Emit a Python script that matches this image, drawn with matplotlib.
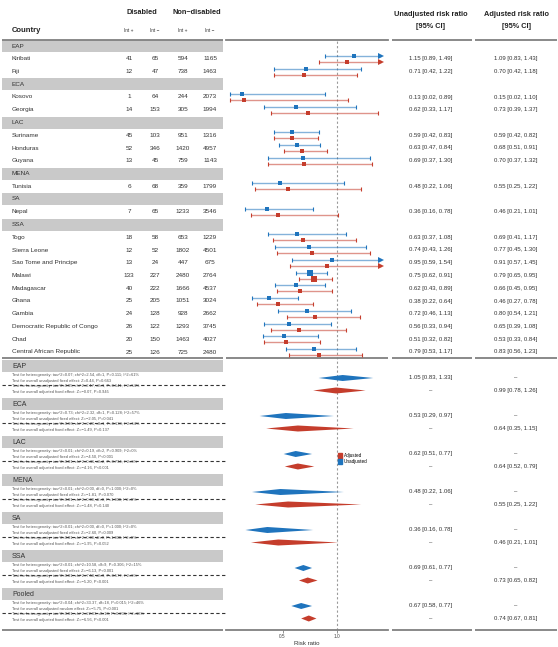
import matplotlib.pyplot as plt
from matplotlib.patches import Rectangle, Polygon, Patch
import numpy as np

plt.rcParams['font.family'] = ['Liberation Sans', 'DejaVu Sans']

# ---- data ----
regions = ["EAP", "ECA", "LAC", "MENA", "SA", "SSA"]
countries = ["Kiribati", "Fiji", "Kosovo", "Georgia", "Suriname", "Honduras", "Guyana",
             "Tunisia", "Nepal", "Togo", "Sierra Leone", "Sao Tome and Principe", "Malawi",
             "Madagascar", "Ghana", "Gambia", "Democratic Republic of Congo", "Chad",
             "Central African Republic"]
country_region = ["EAP", "EAP", "ECA", "ECA", "LAC", "LAC", "LAC", "MENA", "SA",
                  "SSA", "SSA", "SSA", "SSA", "SSA", "SSA", "SSA", "SSA", "SSA", "SSA"]
dis_pos = [41, 12, 1, 14, 45, 52, 13, 6, 7, 18, 12, 13, 133, 40, 25, 24, 26, 20, 25]
dis_neg = [65, 47, 64, 153, 103, 346, 45, 68, 65, 58, 52, 24, 227, 222, 205, 128, 122, 150, 126]
non_pos = [594, 738, 244, 305, 951, 1420, 759, 359, 1233, 653, 1802, 447, 2480, 1666, 1051,
           928, 1293, 1463, 725]
non_neg = [1165, 1463, 2073, 1994, 1316, 4957, 1143, 1799, 3546, 1229, 4501, 675, 2764, 4537,
           3024, 2662, 3745, 4027, 2480]

unadj_rr = [1.15, 0.71, 0.13, 0.62, 0.59, 0.63, 0.69, 0.48, 0.36, 0.63, 0.74, 0.95, 0.75, 0.62,
            0.38, 0.72, 0.56, 0.51, 0.79]
unadj_lo = [0.89, 0.42, 0.02, 0.33, 0.42, 0.47, 0.37, 0.22, 0.16, 0.37, 0.43, 0.59, 0.62, 0.43,
            0.22, 0.46, 0.33, 0.32, 0.53]
unadj_hi = [1.49, 1.22, 0.89, 1.17, 0.83, 0.84, 1.30, 1.06, 0.78, 1.08, 1.26, 1.54, 0.91, 0.89,
            0.64, 1.13, 0.94, 0.82, 1.17]
adj_rr = [1.09, 0.70, 0.15, 0.73, 0.59, 0.68, 0.70, 0.55, 0.46, 0.69, 0.77, 0.91, 0.79, 0.66,
          0.46, 0.80, 0.65, 0.53, 0.83]
adj_lo = [0.83, 0.42, 0.02, 0.39, 0.42, 0.51, 0.37, 0.25, 0.21, 0.41, 0.45, 0.57, 0.65, 0.45,
          0.27, 0.54, 0.39, 0.33, 0.56]
adj_hi = [1.43, 1.18, 1.10, 1.37, 0.82, 0.91, 1.32, 1.22, 1.01, 1.17, 1.30, 1.45, 0.95, 0.95,
          0.78, 1.21, 1.08, 0.84, 1.23]

groups = ["EAP", "ECA", "LAC", "MENA", "SA", "SSA", "Pooled"]
grp_unadj_rr = [1.05, 0.53, 0.62, 0.48, 0.36, 0.69, 0.67]
grp_unadj_lo = [0.83, 0.29, 0.51, 0.22, 0.16, 0.61, 0.58]
grp_unadj_hi = [1.33, 0.97, 0.77, 1.06, 0.78, 0.77, 0.77]
grp_adj_rr = [0.99, 0.64, 0.64, 0.55, 0.46, 0.73, 0.74]
grp_adj_lo = [0.78, 0.35, 0.52, 0.25, 0.21, 0.65, 0.67]
grp_adj_hi = [1.26, 1.15, 0.79, 1.22, 1.01, 0.82, 0.81]

het_unadj = ["tau^2=0.07; chi^2=2.54, df=1, P=0.111; I^2=61%",
             "tau^2=0.73; chi^2=2.32, df=1, P=0.128; I^2=57%",
             "tau^2<0.01; chi^2=0.19, df=2, P=0.909; I^2=0%",
             "tau^2<0.01; chi^2=0.00, df=0, P=1.000; I^2=0%",
             "tau^2<0.01; chi^2=0.00, df=0, P=1.000; I^2=0%",
             "tau^2<0.01; chi^2=10.58, df=9, P=0.306; I^2=15%",
             "tau^2=0.04; chi^2=33.37, df=18, P=0.015; I^2=46%"]
eff_unadj = ["Z=0.44, P=0.663", "Z=\u22122.05, P=0.041", "Z=\u22124.50, P<0.001",
             "Z=\u22121.81, P=0.070", "Z=\u22122.60, P=0.009", "Z=\u22126.13, P<0.001",
             "Z=\u22125.75, P<0.001"]
het_adj = ["tau^2=0.05; chi^2=2.17, df=1, P=0.141; I^2=54%",
           "tau^2=0.66; chi^2=2.20, df=1, P=0.138; I^2=54%",
           "tau^2<0.01; chi^2=0.46, df=2, P=0.794; I^2=0%",
           "tau^2<0.01; chi^2=0.00, df=0, P=1.000; I^2=0%",
           "tau^2<0.01; chi^2=0.00, df=0, P=1.000; I^2=0%",
           "tau^2<0.01; chi^2=7.58, df=9, P=0.577; I^2=0%",
           "tau^2<0.01; chi^2=22.03, df=18, P=0.231; I^2=18%"]
eff_adj = ["Z=\u22120.07, P=0.945", "Z=\u22121.49, P=0.137", "Z=\u22124.16, P<0.001",
           "Z=\u22121.48, P=0.140", "Z=\u22121.95, P=0.052", "Z=\u22125.20, P<0.001",
           "Z=\u22126.56, P<0.001"]

BLUE = '#1f74bd'
RED = '#c53d2c'
RULE = '#808080'
BAND = '#c9c9c9'
TXT = '#333333'

W, H = 558, 647
TOP, MID, BOT = 40, 358, 630
XMAX_ARROW = 1.40

fig = plt.figure(figsize=(W / 100, H / 100), dpi=100)
bg = fig.add_axes([0, 0, 1, 1])
bg.set_xlim(0, W)
bg.set_ylim(H, 0)
bg.axis('off')

fx = fig.add_axes([226 / W, (H - BOT) / H, 162 / W, (BOT - TOP) / H])
fx.set_facecolor('none')
fx.set_xlim(-0.018, 1.465)
fx.set_ylim(BOT, TOP)
for s in ['left', 'right']:
    fx.spines[s].set_visible(False)
for s in ['top', 'bottom']:
    fx.spines[s].set_color(RULE)
    fx.spines[s].set_linewidth(1.3)
fx.set_yticks([])
fx.set_xticks([0.5, 1.0])
fx.set_xticklabels(['0.5', '1.0'])
fx.tick_params(axis='x', length=2, width=0.6, color=RULE, labelsize=3.4,
               labelcolor='#444444', pad=1)
fx.set_xlabel('Risk ratio', fontsize=4.4, color='#333333', labelpad=1.5)
fx.axvline(1.0, color='#9a9a9a', lw=0.8, ls=(0, (2, 2)), zorder=0)
fx.axhline(MID, color=RULE, lw=1.3)

# horizontal rules for the table and text columns
for (x0, x1) in [(2, 223), (392, 472), (475, 557)]:
    for yy in (TOP, MID, BOT):
        bg.plot([x0, x1], [yy, yy], color=RULE, lw=1.3, solid_capstyle='butt')

# headers
col_x = [129, 155, 183, 210]
bg.text(12, 30, 'Country', fontsize=5.5, weight='bold', color='#222222', va='center')
bg.text(142, 12, 'Disabled', fontsize=5.3, weight='bold', color='#222222', ha='center', va='center')
bg.text(197, 12, 'Non\u2212disabled', fontsize=5.3, weight='bold', color='#222222',
        ha='center', va='center')
for x, lab in zip(col_x, ['Int +', 'Int \u2212', 'Int +', 'Int \u2212']):
    bg.text(x, 31, lab, fontsize=3.4, color=TXT, ha='center', va='center')
UX, AX = 431, 516
for x, lab in [(UX, 'Unadjusted risk ratio'), (AX, 'Adjusted risk ratio')]:
    bg.text(x, 14, lab, fontsize=5.3, weight='bold', color='#222222', ha='center', va='center')
    bg.text(x, 27, '[95% CI]', fontsize=5.3, weight='bold', color='#222222', ha='center', va='center')


def fmt(r, lo, hi):
    return f"{r:.2f} [{lo:.2f}, {hi:.2f}]"


def weight(lo, hi):
    se = (np.log(hi) - np.log(lo)) / 3.92
    return 1.0 / se ** 2


def draw_ci(y, r, lo, hi, color):
    hi_c = min(hi, XMAX_ARROW)
    fx.plot([lo, hi_c], [y, y], color=color, lw=1.0, alpha=0.55, solid_capstyle='butt')
    caps = [lo] if hi > XMAX_ARROW else [lo, hi]
    fx.vlines(caps, y - 2.0, y + 2.0, color=color, lw=0.8)
    if hi > XMAX_ARROW:
        fx.plot(XMAX_ARROW, y, marker='>', color=color, ms=3.8, mew=0)
    side = max(3.2, 5.8 * (weight(lo, hi) / 104.0) ** (1 / 3))
    fx.plot(r, y, marker='s', color=color, ms=side * 0.72, mew=0)


# ---- study rows ----
y = 46.0
step = 12.75
for reg in regions:
    bg.add_patch(Rectangle((2, y - 6), 221, 12, color=BAND, lw=0))
    bg.text(12, y, reg, fontsize=4.6, color=TXT, va='center')
    y += step
    for i, c in enumerate(countries):
        if country_region[i] != reg:
            continue
        bg.text(12, y, c, fontsize=4.6, color=TXT, va='center')
        for x, v in zip(col_x, [dis_pos[i], dis_neg[i], non_pos[i], non_neg[i]]):
            bg.text(x, y, str(v), fontsize=4.6, color=TXT, ha='center', va='center')
        draw_ci(y - 3, unadj_rr[i], unadj_lo[i], unadj_hi[i], BLUE)
        draw_ci(y + 3, adj_rr[i], adj_lo[i], adj_hi[i], RED)
        bg.text(UX, y, fmt(unadj_rr[i], unadj_lo[i], unadj_hi[i]), fontsize=4.3,
                color=TXT, ha='center', va='center')
        bg.text(AX, y, fmt(adj_rr[i], adj_lo[i], adj_hi[i]), fontsize=4.3,
                color=TXT, ha='center', va='center')
        y += step

# ---- subgroup summaries ----
g0, gstep = 366.0, 38.0
for k, g in enumerate(groups):
    gy = g0 + k * gstep
    bg.add_patch(Rectangle((2, gy - 6), 221, 12, color=BAND, lw=0))
    bg.text(12, gy, g, fontsize=5.0, color=TXT, va='center')
    eff_kind = 'random' if g == 'Pooled' else 'fixed'
    lines = [(gy + 9, "Test for heterogeneity: " + het_unadj[k]),
             (gy + 15, f"Test for overall unadjusted {eff_kind} effect: " + eff_unadj[k]),
             (gy + 20.5, "Test for heterogeneity: " + het_adj[k]),
             (gy + 26.5, "Test for overall adjusted fixed effect: " + eff_adj[k])]
    for ly, s in lines:
        bg.text(12, ly, s, fontsize=2.9, color='#555555', va='center')
    bg.plot([2, 225], [gy + 19, gy + 19], color='#333333', lw=0.8, ls=(0, (3, 2.2)))

    for yy, r, lo, hi, col in [(gy + 12, grp_unadj_rr[k], grp_unadj_lo[k], grp_unadj_hi[k], BLUE),
                               (gy + 24.5, grp_adj_rr[k], grp_adj_lo[k], grp_adj_hi[k], RED)]:
        fx.add_patch(Polygon([(lo, yy), (r, yy - 3.0), (hi, yy), (r, yy + 3.0)],
                             closed=True, color=col, lw=0))
    bg.text(UX, gy + 12, fmt(grp_unadj_rr[k], grp_unadj_lo[k], grp_unadj_hi[k]),
            fontsize=4.3, color=TXT, ha='center', va='center')
    bg.text(AX, gy + 12, '\u2013', fontsize=4.3, color=TXT, ha='center', va='center')
    bg.text(UX, gy + 24.5, '\u2013', fontsize=4.3, color=TXT, ha='center', va='center')
    bg.text(AX, gy + 24.5, fmt(grp_adj_rr[k], grp_adj_lo[k], grp_adj_hi[k]),
            fontsize=4.3, color=TXT, ha='center', va='center')

fx.legend(handles=[Patch(color=RED, label='Adjusted'), Patch(color=BLUE, label='Unadjusted')],
          loc='upper left', bbox_to_anchor=(338 / W, 1 - 453 / H), bbox_transform=fig.transFigure,
          fontsize=3.3, frameon=False, handlelength=0.8, handleheight=1.5,
          handletextpad=0.4, labelspacing=0.05, borderpad=0, borderaxespad=0)

fig.savefig('out.png', dpi=100)
